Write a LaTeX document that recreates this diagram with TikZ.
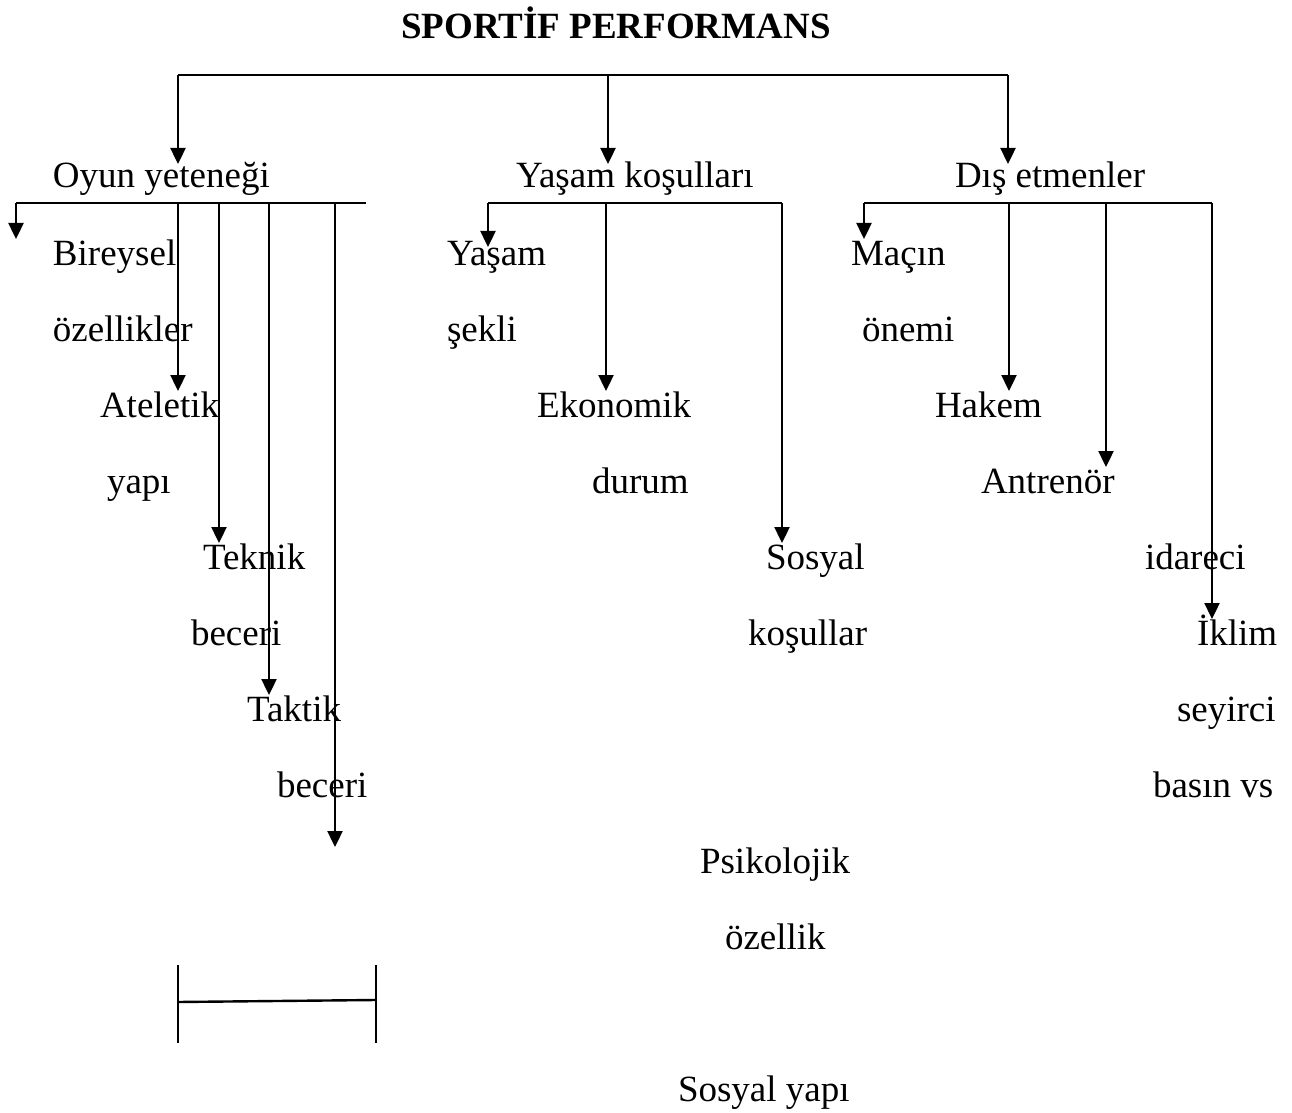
\documentclass[tikz,border=0pt]{standalone}
\usepackage{fontspec}
\setmainfont{Liberation Serif}
\usetikzlibrary{arrows.meta,positioning}
\tikzset{
    %Define standard arrow tip
    >={Triangle[length=8pt,width=7.5pt]},
    baslik/.style={
      anchor=base,
      inner sep=0pt,
      font=\fontsize{18.5}{22}\selectfont\bfseries},
    kutu/.style={
      anchor=base west,
      inner sep=0pt,
      outer sep=0pt,
      text height=13pt,
      font=\fontsize{18.5}{22}\selectfont}
}

\begin{document}
\begin{tikzpicture}[x=0.5pt,y=-0.5pt,line width=1.2pt]
    \useasboundingbox (0,0) rectangle (1292,1113);
    % title and main groups
    \node (spor) [baslik] at (616,39) {SPORTİF PERFORMANS};
    \node (oyun) [kutu] at (53,188)  {Oyun yeteneği};
    \node (yko)  [kutu] at (516,188) {Yaşam koşulları};
    \node (dis)  [kutu] at (955,188) {Dış etmenler};
    % left column
    \node (bir)  [kutu] at (53,265)  {Bireysel};
    \node (oze)  [kutu] at (53,341)  {özellikler};
    \node (ate)  [kutu] at (100,417) {Ateletik};
    \node (yap)  [kutu] at (107,493) {yapı};
    \node (tek)  [kutu] at (203,569) {Teknik};
    \node (bec1) [kutu] at (191,645) {beceri};
    \node (tak)  [kutu] at (247,721) {Taktik};
    \node (bec2) [kutu] at (277,797) {beceri};
    % middle column
    \node (yas)  [kutu] at (447,265) {Yaşam};
    \node (sek)  [kutu] at (447,341) {şekli};
    \node (eko)  [kutu] at (537,417) {Ekonomik};
    \node (dur)  [kutu] at (592,493) {durum};
    \node (sos)  [kutu] at (766,569) {Sosyal};
    \node (kos)  [kutu] at (748,645) {koşullar};
    \node (psi)  [kutu] at (700,873) {Psikolojik};
    \node (ozl)  [kutu] at (725,949) {özellik};
    \node (syap) [kutu] at (678,1101) {Sosyal yapı};
    % right column
    \node (mac)  [kutu] at (851,265)  {Maçın};
    \node (one)  [kutu] at (862,341)  {önemi};
    \node (hak)  [kutu] at (935,417)  {Hakem};
    \node (ant)  [kutu] at (981,493)  {Antrenör};
    \node (ida)  [kutu] at (1145,569) {idareci};
    \node (ikl)  [kutu] at (1197,645) {İklim};
    \node (sey)  [kutu] at (1177,721) {seyirci};
    \node (bas)  [kutu] at (1153,797) {basın vs};

    % top bar
    \coordinate (t1) at (178,75);
    \coordinate (t2) at (608,75);
    \coordinate (t3) at (1008,75);
    \draw (t1) -- (t3);
    \draw [->] (t1) -- ([yshift=-1pt]t1 |- oyun.north);
    \draw [->] (t2) -- ([yshift=-1pt]t2 |- yko.north);
    \draw [->] (t3) -- ([yshift=-1pt]t3 |- dis.north);

    % left branch
    \coordinate (l0) at (16,203);
    \coordinate (l1) at (178,203);
    \coordinate (l2) at (219,203);
    \coordinate (l3) at (269,203);
    \coordinate (l4) at (335,203);
    \coordinate (l5) at (366,203);
    \draw (l0) -- (l5);
    \draw [->] (l0) -- (l0 |- bir.north);
    \draw [->] (l1) -- (l1 |- ate.north);
    \draw [->] (l2) -- (l2 |- tek.north);
    \draw [->] (l3) -- (l3 |- tak.north);
    \draw [->] (l4) -- (l4 |- psi.north);

    % middle branch
    \coordinate (m1) at (488,203);
    \coordinate (m2) at (606,203);
    \coordinate (m3) at (782,203);
    \draw (m1) -- (m3);
    \draw [->] (m1) -- ([yshift=-4pt]m1 |- yas.north);
    \draw [->] (m2) -- (m2 |- eko.north);
    \draw [->] (m3) -- (m3 |- sos.north);

    % right branch
    \coordinate (r1) at (864,203);
    \coordinate (r2) at (1009,203);
    \coordinate (r3) at (1106,203);
    \coordinate (r4) at (1212,203);
    \draw (r1) -- (r4);
    \draw [->] (r1) -- (r1 |- mac.north);
    \draw [->] (r2) -- (r2 |- hak.north);
    \draw [->] (r3) -- (r3 |- ant.north);
    \draw [->] (r4) -- (r4 |- ikl.north);

    % bracket at bottom
    \draw (178,965) -- (178,1043);
    \draw (376,965) -- (376,1043);
    \draw (178,1002) -- (376,1000);
\end{tikzpicture}
\end{document}
